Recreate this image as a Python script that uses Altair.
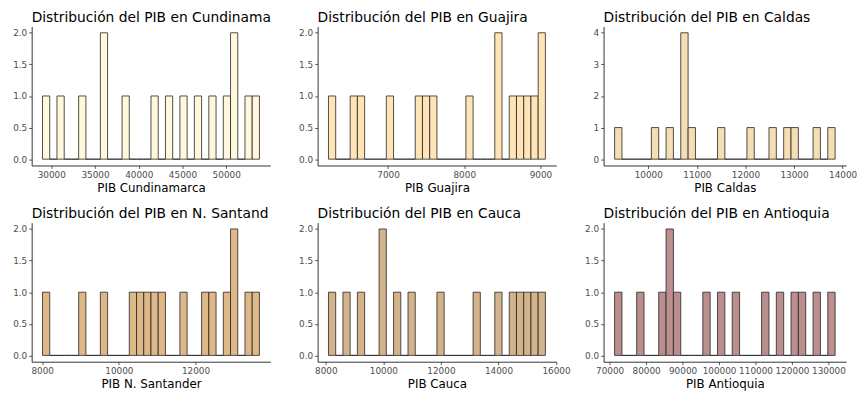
import altair as alt
import pandas as pd

FONT = "DejaVu Sans"

titles = [
    "Distribución del PIB en Cundinama",
    "Distribución del PIB en Guajira",
    "Distribución del PIB en Caldas",
    "Distribución del PIB en N. Santand",
    "Distribución del PIB en Cauca",
    "Distribución del PIB en Antioquia",
]
xlabels = ["PIB Cundinamarca", "PIB Guajira", "PIB Caldas",
           "PIB N. Santander", "PIB Cauca", "PIB Antioquia"]
fills = ["#FFF8DC", "#FFE4B5", "#F5DEB3", "#DEB887", "#D2B48C", "#BC8F8F"]

# 30-bin histogram counts
counts_cundinamarca = [1,0,1,0,0, 1,0,0,2,0, 0,1,0,0,0, 1,0,1,0,1, 0,1,0,1,0, 1,2,0,1,1]
counts_guajira      = [1,0,0,1,1, 0,0,0,1,0, 0,0,1,1,1, 0,0,0,0,1, 0,0,0,2,0, 1,1,1,1,2]
counts_caldas       = [1,0,0,0,0, 1,0,1,0,4, 1,0,0,0,1, 0,0,0,1,0, 0,1,0,1,1, 0,0,1,0,1]
counts_nsantander   = [1,0,0,0,0, 1,0,0,1,0, 0,0,1,1,1, 1,1,0,0,1, 0,0,1,1,0, 1,2,0,1,1]
counts_cauca        = [1,0,1,0,1, 0,0,2,0,1, 0,1,0,0,0, 1,0,0,0,0, 1,0,0,1,0, 1,1,1,1,1]
counts_antioquia    = [1,0,0,1,0, 0,1,2,1,0, 0,0,1,0,1, 0,1,0,0,0, 1,0,1,0,1, 1,0,1,0,1]
counts = [counts_cundinamarca, counts_guajira, counts_caldas,
          counts_nsantander, counts_cauca, counts_antioquia]

# outer edges of the 30 bins (data units)
bin_ranges = [(29000, 53800), (6218, 9065), (9307, 13845),
              (8008, 13667), (8092, 15630), (71362, 131825)]

xticks = [
    [30000, 35000, 40000, 45000, 50000],
    [7000, 8000, 9000],
    [10000, 11000, 12000, 13000, 14000],
    [8000, 10000, 12000],
    [8000, 10000, 12000, 14000, 16000],
    [70000, 80000, 90000, 100000, 110000, 120000, 130000],
]
ymaxs = [2, 2, 4, 2, 2, 2]
yticks = [[0, 0.5, 1, 1.5, 2], [0, 0.5, 1, 1.5, 2], [0, 1, 2, 3, 4],
          [0, 0.5, 1, 1.5, 2], [0, 0.5, 1, 1.5, 2], [0, 0.5, 1, 1.5, 2]]
yformats = [".1f", ".1f", "d", ".1f", ".1f", ".1f"]

widths = [242, 242, 246, 242, 242, 246]
H = 141


def panel(i):
    lo, hi = bin_ranges[i]
    nb = len(counts[i])
    w = (hi - lo) / nb
    df = pd.DataFrame({
        "start": [lo + k * w for k in range(nb)],
        "end": [lo + (k + 1) * w for k in range(nb)],
        "count": counts[i],
    })
    xpad = 0.05 * (hi - lo)
    ymax = ymaxs[i]
    return alt.Chart(df, title=alt.Title(titles[i], anchor="start", frame="group")).mark_rect(
        fill=fills[i], stroke="#222222", strokeWidth=0.8
    ).encode(
        x=alt.X("start:Q",
                scale=alt.Scale(domain=[lo - xpad, hi + xpad], nice=False, zero=False),
                axis=alt.Axis(values=xticks[i], format="d", title=xlabels[i])),
        x2="end:Q",
        y=alt.Y("count:Q",
                scale=alt.Scale(domain=[-0.05 * ymax, 1.05 * ymax], nice=False, zero=False),
                axis=alt.Axis(values=yticks[i], format=yformats[i], title=None)),
        y2=alt.datum(0),
    ).properties(width=widths[i], height=H)


chart = alt.concat(
    *[panel(i) for i in range(6)], columns=3, bounds="flush", align="each",
    spacing={"row": 58, "column": 48}
).properties(
    padding={"left": 4, "top": 0, "right": 0, "bottom": 0}
).configure_view(stroke=None).configure_axis(
    labelFont=FONT, titleFont=FONT, labelFontSize=9, titleFontSize=12,
    labelColor="#4D4D4D", titleColor="#000000", titleFontWeight="normal",
    domainColor="#000000", domainWidth=0.8, tickColor="#333333", tickWidth=0.8,
    tickSize=3, labelPadding=2, titlePadding=3, grid=False,
    labelOverlap=False, labelFlush=False,
).configure_title(
    font=FONT, fontSize=14, fontWeight="normal", color="#000000", offset=2
)

chart.save("out.html", embed_options={"renderer": "svg", "actions": False})
